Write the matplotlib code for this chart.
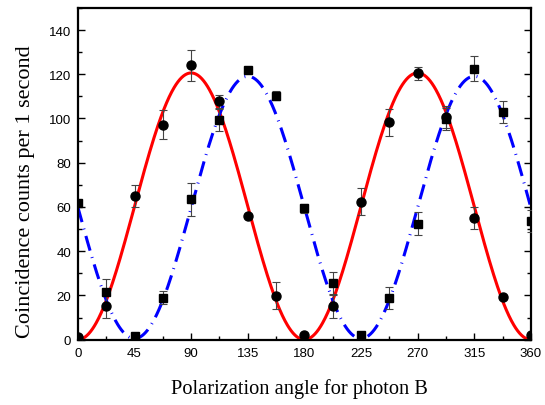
import numpy as np
import matplotlib.pyplot as plt
from matplotlib.ticker import MultipleLocator

# measured points (angle in degrees)
angles = [0, 22.5, 45, 67.5, 90, 112.5, 135, 157.5, 180,
          202.5, 225, 247.5, 270, 292.5, 315, 337.5, 360]
counts_circle = [1, 15, 65, 97.2, 124, 107.7, 55.8, 19.9, 2,
                 15, 62.4, 98.2, 120.5, 100.5, 54.9, 19.2, 2]
err_circle = [1, 5, 5, 6.5, 7, 3, 1, 6, 1,
              5, 6, 6, 3, 5, 5, 1, 1]
counts_square = [62, 21.5, 1.5, 19, 63.5, 99.5, 122, 110.3, 59.4,
                 25.5, 2, 19, 52.5, 99.7, 122.6, 102.8, 53.8]
err_square = [1, 6, 1, 3, 7.5, 5, 1.5, 2, 2,
              5, 1, 5, 5, 5, 5.5, 5, 5]

# fit parameters: offset, amplitude, angle of maximum
fit_red = [60.3, 60.3, 90]
fit_blue = [59.8, 59.3, 135]

xticks = [0, 45, 90, 135, 180, 225, 270, 315, 360]


def fit_curve(x, p):
    return p[0] + p[1] * np.cos(np.radians(2 * (x - p[2])))


fig = plt.figure(figsize=(5.45, 4.06), dpi=100)
ax = fig.add_axes([0.143, 0.161, 0.831, 0.817])

xs = np.linspace(0, 360, 721)
ax.plot(xs, fit_curve(xs, fit_red), color="#ff0000", lw=2.2, zorder=2)
ax.plot(xs, fit_curve(xs, fit_blue), color="#0000ff", lw=2.2,
        linestyle=(0, (5, 2.2, 0.3, 2.2)), zorder=2)

ax.errorbar(angles, counts_circle, yerr=err_circle, fmt="o", color="black",
            ms=6.5, ecolor="#444444", elinewidth=0.8, capsize=3, capthick=0.8, zorder=3)
ax.errorbar(angles, counts_square, yerr=err_square, fmt="s", color="black",
            ms=5.5, ecolor="#444444", elinewidth=0.8, capsize=3, capthick=0.8, zorder=3)

ax.set_xlim(0, 360)
ax.set_ylim(0, 150)
ax.set_xticks(xticks)
ax.xaxis.set_minor_locator(MultipleLocator(22.5))
ax.set_yticks(range(0, 150, 20))
ax.yaxis.set_minor_locator(MultipleLocator(10))

ax.tick_params(which="both", direction="in", right=True, top=False,
               labelsize=9.5, labelfontfamily="Liberation Sans")
ax.tick_params(which="major", length=5, width=1, pad=5)
ax.tick_params(which="minor", length=3, width=1)
for s in ax.spines.values():
    s.set_linewidth(1.6)

ax.set_xlabel("Polarization angle for photon B", family="Liberation Serif",
              fontsize=14.7)
ax.set_ylabel("Coincidence counts per 1 second", family="Liberation Serif",
              fontsize=16)
ax.xaxis.set_label_coords(0.49, -0.117)
ax.yaxis.set_label_coords(-0.094, 0.45)

fig.savefig("out.png", dpi=100)
